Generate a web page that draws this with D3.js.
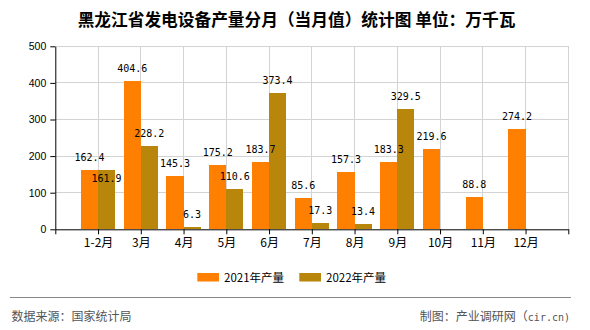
<!DOCTYPE html>
<html>
<head>
<meta charset="utf-8">
<script src="https://cdn.jsdelivr.net/npm/d3@7"></script>
<style>
html,body{margin:0;padding:0;background:#fff;}
svg{display:block;}
</style>
</head>
<body>
<svg id="chart" width="590" height="330"></svg>
<script>
const categories = ["1-2月","3月","4月","5月","6月","7月","8月","9月","10月","11月","12月"];
const seriesNames = ["2021年产量","2022年产量"];
const values2021 = [162.4,404.6,145.3,175.2,183.7,85.6,157.3,183.3,219.6,88.8,274.2];
const values2022 = [161.9,228.2,6.3,110.6,373.4,17.3,13.4,329.5,null,null,null];
const yTicks = [0,100,200,300,400,500];
const colors = ["#FF8000","#B8860B"];
const titleText = "黑龙江省发电设备产量分月（当月值）统计图 单位：万千瓦";
const sourceText = "数据来源：国家统计局";
const creditText = "制图：产业调研网（";
const creditSite = "cir.cn)";

(function(){
const svg = d3.select("#chart");
const cjk = "'Noto Sans CJK SC','Noto Sans',sans-serif";
const mono = "'DejaVu Sans Mono','Liberation Mono',monospace";

const pLeft = 55.3, pRight = 568.3, pTop = 46.3, pBottom = 229.3;
const nPos = categories.length + 1;
const x = d3.scaleLinear().domain([0, nPos]).range([pLeft, pRight]);
const y = d3.scaleLinear().domain([0, 500]).range([pBottom, pTop]);
const step = x(1) - x(0);
const bw = step * 0.4;

// title
svg.append("text").attr("x", 296.5).attr("y", 25.5).attr("text-anchor","middle")
  .attr("font-family", cjk).attr("font-size", 16.7).attr("font-weight","bold")
  .attr("fill","#000").text(titleText);

// grid
const grid = svg.append("g").attr("stroke","#d3d3d3").attr("stroke-width",1).attr("shape-rendering","crispEdges");
yTicks.filter(t=>t>0).forEach(t=>{
  grid.append("line").attr("x1",pLeft).attr("x2",pRight).attr("y1",y(t)).attr("y2",y(t));
});
d3.range(1, nPos+1).forEach(i=>{
  grid.append("line").attr("x1",x(i)).attr("x2",x(i)).attr("y1",pTop).attr("y2",pBottom);
});

// bars
const barG = svg.append("g").attr("shape-rendering","crispEdges");
categories.forEach((c,i)=>{
  const cx = x(i+1);
  const v1 = values2021[i], v2 = values2022[i];
  if (v1 != null) barG.append("rect").attr("x",cx-bw).attr("width",bw).attr("y",y(v1)).attr("height",y(0)-y(v1)).attr("fill",colors[0]);
  if (v2 != null) barG.append("rect").attr("x",cx).attr("width",bw).attr("y",y(v2)).attr("height",y(0)-y(v2)).attr("fill",colors[1]);
});

// axes
const yAxis = d3.axisLeft(y).tickValues(yTicks).tickSize(5).tickPadding(4).tickSizeOuter(0);
const gy = svg.append("g").attr("transform",`translate(${pLeft},0)`).call(yAxis);
gy.selectAll("text").attr("font-family","'Liberation Sans',Arial,sans-serif").attr("font-size",10.5).attr("fill","#000");
gy.selectAll("line,path").attr("stroke","#000");

const xAxis = d3.axisBottom(x).tickValues(d3.range(0, nPos+1)).tickSize(5).tickSizeOuter(0)
  .tickFormat(i => (i>=1 && i<=categories.length) ? categories[i-1] : "");
const gx = svg.append("g").attr("transform",`translate(0,${pBottom})`).call(xAxis);
gx.selectAll("text").attr("font-family",cjk).attr("font-size",12).attr("fill","#000").attr("y",18).attr("dy",0);
gx.selectAll("line,path").attr("stroke","#000");

// value labels
const lg = svg.append("g").attr("font-family",mono).attr("font-size",10).attr("fill","#000").attr("text-anchor","middle");
categories.forEach((c,i)=>{
  const cx = x(i+1);
  const v1 = values2021[i], v2 = values2022[i];
  let y1 = null;
  if (v1 != null) {
    y1 = y(v1) - 9;
    lg.append("text").attr("x",cx-bw/2).attr("y",y1).text(v1.toFixed(1));
  }
  if (v2 != null) {
    let y2 = y(v2) - 9;
    if (y1 != null && Math.abs(y2 - y1) < 12) y2 = y1 + 21;
    lg.append("text").attr("x",cx+bw/2).attr("y",y2).text(v2.toFixed(1));
  }
});

// legend
const legX = [197.3, 299.3];
seriesNames.forEach((n,k)=>{
  svg.append("rect").attr("x",legX[k]).attr("y",273).attr("width",21.7).attr("height",8.5).attr("fill",colors[k]);
  svg.append("text").attr("x",legX[k]+26.7).attr("y",281.8).attr("font-family",cjk).attr("font-size",11.5).attr("fill","#000").text(n);
});

// footer
svg.append("line").attr("x1",10).attr("x2",571).attr("y1",297.7).attr("y2",297.7).attr("stroke","#888").attr("stroke-width",1).attr("shape-rendering","crispEdges");
svg.append("text").attr("x",11.5).attr("y",320.5).attr("font-family",cjk).attr("font-size",12).attr("fill","#555").text(sourceText);
const ct = svg.append("text").attr("x",570).attr("y",320.5).attr("text-anchor","end").attr("fill","#555");
ct.append("tspan").attr("font-family",cjk).attr("font-size",12).text(creditText);
ct.append("tspan").attr("font-family",mono).attr("font-size",10).text(creditSite);
})();
</script>
</body>
</html>
